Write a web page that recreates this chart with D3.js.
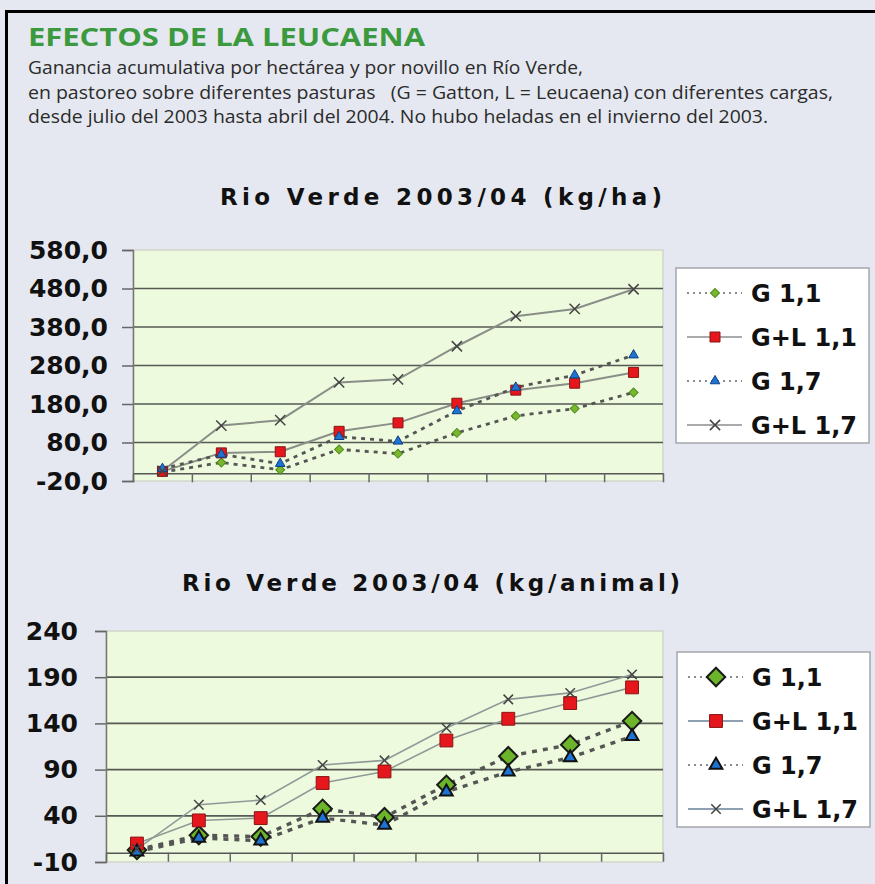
<!DOCTYPE html>
<html>
<head>
<meta charset="utf-8">
<script src="https://cdn.jsdelivr.net/npm/d3@7"></script>
<style>
  html, body { margin: 0; padding: 0; background: #e5e8f0; }
  svg { display: block; }
  text { white-space: pre; }
</style>
</head>
<body>
<script>
"use strict";

// categories (measurement dates, not labelled on the chart)
var categories = ["1", "2", "3", "4", "5", "6", "7", "8", "9"];
var seriesNames = ["G 1,1", "G+L 1,1", "G 1,7", "G+L 1,7"];

// kg/ha
var haG11  = [3, 28, 9, 62, 51, 105, 149, 168, 210];
var haGL11 = [5, 53, 56, 109, 131, 182, 216, 234, 262];
var haG17  = [12, 49, 25, 95, 83, 162, 223, 255, 307];
var haGL17 = [6, 124, 138, 236, 244, 330, 408, 427, 478];
var haTicks = [-20, 80, 180, 280, 380, 480, 580];

// kg/animal
var anG11  = [3, 19, 17.5, 47.5, 38.5, 73.5, 104.5, 117, 142.5];
var anGL11 = [10, 35, 37.5, 75.5, 88, 121.5, 145, 162, 179];
var anG17  = [1, 16, 13, 37.5, 30, 66, 87.5, 103, 126];
var anGL17 = [4, 52, 57, 95, 100, 135, 166, 173, 193];
var anTicks = [-10, 40, 90, 140, 190, 240];

var W = 875, H = 884;
var svg = d3.select("body").append("svg").attr("width", W).attr("height", H);

svg.append("rect").attr("width", W).attr("height", H).attr("fill", "#e5e8f0");

// frame
svg.append("line").attr("x1", 5).attr("x2", W).attr("y1", 11.5).attr("y2", 11.5)
  .attr("stroke", "#000").attr("stroke-width", 3);
svg.append("line").attr("x1", 6.5).attr("x2", 6.5).attr("y1", 10).attr("y2", H)
  .attr("stroke", "#000").attr("stroke-width", 3);

// heading
svg.append("text").attr("x", 28).attr("y", 46)
  .attr("font-family", "Open Sans").attr("font-weight", 700).attr("font-size", 25)
  .attr("fill", "#3c9a3e").attr("textLength", 397).attr("lengthAdjust", "spacingAndGlyphs")
  .text("EFECTOS DE LA LEUCAENA");

var subLines = [
  ["Ganancia acumulativa por hectárea y por novillo en Río Verde,", 555],
  ["en pastoreo sobre diferentes pasturas   (G = Gatton, L = Leucaena) con diferentes cargas,", 805],
  ["desde julio del 2003 hasta abril del 2004. No hubo heladas en el invierno del 2003.", 740]
];
subLines.forEach(function(l, i) {
  svg.append("text").attr("x", 28).attr("y", 74 + i * 24.5)
    .attr("font-family", "Open Sans").attr("font-size", 19).attr("fill", "#2b2b2b")
    .attr("textLength", l[1]).attr("lengthAdjust", "spacingAndGlyphs")
    .text(l[0]);
});

var locale = d3.formatLocale({decimal: ",", thousands: ".", grouping: [3], currency: ["", ""], minus: "-"});
var fmtComma = locale.format(".1f");
var fmtInt = locale.format("d");

var styles = [
  {dash: "4,5", lineColor: "#555", marker: "diamond"},
  {dash: null, lineColor: "#8c918c", marker: "square"},
  {dash: "4,5", lineColor: "#555", marker: "triangle"},
  {dash: null, lineColor: "#8c918c", marker: "x"}
];

function drawMarker(g, type, x, y, big) {
  var sym, size, fill, stroke, sw, rot = 0;
  if (type === "diamond") {
    sym = d3.symbolSquare; rot = 45;
    size = big ? 170 : 40;
    fill = big ? "#6cb42a" : "#79b82c"; stroke = big ? "#1a1a1a" : "#4d8a1c"; sw = big ? 2 : 1;
  } else if (type === "square") {
    sym = d3.symbolSquare; size = big ? 165 : 100;
    fill = "#e5161c"; stroke = "#8a1414"; sw = 1;
  } else if (type === "triangle") {
    sym = d3.symbolTriangle; size = big ? 70 : 40;
    fill = "#1e74d4"; stroke = big ? "#111" : "#0d3f80"; sw = big ? 2 : 1;
  } else {
    sym = d3.symbolTimes || d3.symbolX; size = big ? 60 : 70;
    fill = "none"; stroke = "#444"; sw = 1.5;
  }
  g.append("path")
    .attr("d", d3.symbol().type(sym).size(size)())
    .attr("transform", "translate(" + x + "," + y + ") rotate(" + rot + ")")
    .attr("fill", fill).attr("stroke", stroke).attr("stroke-width", sw);
}

function drawChart(cfg) {
  var g = svg.append("g");
  var x = d3.scaleBand().domain(categories).range([cfg.left, cfg.right]);
  var xb = d3.scaleLinear().domain([0, categories.length]).range([cfg.left, cfg.right]);
  var y = d3.scaleLinear().domain([cfg.ticks[0], cfg.ticks[cfg.ticks.length - 1]]).range([cfg.bottom, cfg.top]);

  // title
  g.append("text").attr("x", cfg.titleX).attr("y", cfg.titleY).attr("text-anchor", "middle")
    .attr("font-family", "DejaVu Sans").attr("font-weight", "bold").attr("font-size", 23)
    .attr("fill", "#111").attr("textLength", cfg.titleW).attr("lengthAdjust", "spacing")
    .text(cfg.title);

  // plot area
  g.append("rect").attr("x", cfg.left).attr("y", cfg.top)
    .attr("width", cfg.right - cfg.left).attr("height", cfg.bottom - cfg.top)
    .attr("fill", "#eefadd").attr("stroke", "#d2d6cc").attr("stroke-width", 1.5);

  // gridlines
  g.selectAll(".grid").data(cfg.ticks.slice(1, -1)).enter().append("line")
    .attr("x1", cfg.left).attr("x2", cfg.right)
    .attr("y1", function(d) { return y(d); }).attr("y2", function(d) { return y(d); })
    .attr("stroke", "#565953").attr("stroke-width", 1.7);

  // y axis
  var yAxis = d3.axisLeft(y).tickValues(cfg.ticks).tickSize(11).tickPadding(cfg.pad)
    .tickFormat(cfg.fmt);
  var ya = g.append("g").attr("transform", "translate(" + cfg.left + ",0)").call(yAxis);
  ya.select(".domain").attr("stroke", "#777").attr("stroke-width", 1.5);
  ya.selectAll(".tick line").attr("stroke", "#666").attr("stroke-width", 1.5);
  ya.selectAll(".tick text").attr("font-family", "DejaVu Sans").attr("font-weight", "bold")
    .attr("font-size", 25).attr("fill", "#111");

  // x axis at zero
  var xAxis = d3.axisBottom(xb).tickValues(d3.range(0, categories.length + 1))
    .tickSize(9).tickSizeOuter(0).tickFormat("");
  var xa = g.append("g").attr("transform", "translate(0," + y(0) + ")").call(xAxis);
  xa.select(".domain").attr("stroke", "#555").attr("stroke-width", 1.6);
  xa.selectAll(".tick line").attr("stroke", "#666").attr("stroke-width", 1.5);

  var cx = function(i) { return x(categories[i]) + x.bandwidth() / 2; };
  var line = d3.line().x(function(d, i) { return cx(i); }).y(function(d) { return y(d); });

  cfg.series.forEach(function(vals, s) {
    var st = styles[s];
    g.append("path").datum(vals).attr("d", line).attr("fill", "none")
      .attr("stroke", st.dash ? "#555" : cfg.solidColor)
      .attr("stroke-width", st.dash ? cfg.dotW : cfg.solidW)
      .attr("stroke-dasharray", st.dash ? cfg.dash : null);
  });
  cfg.series.forEach(function(vals, s) {
    vals.forEach(function(v, i) { drawMarker(g, styles[s].marker, cx(i), y(v), cfg.big); });
  });

  // legend
  var lg = g.append("g");
  lg.append("rect").attr("x", cfg.legX).attr("y", cfg.legY).attr("width", 193).attr("height", 175)
    .attr("fill", "#fff").attr("stroke", "#a4a7ad").attr("stroke-width", 1.5);
  seriesNames.forEach(function(name, s) {
    var st = styles[s];
    var ly = cfg.legY + 25 + s * 44;
    lg.append("line").attr("x1", cfg.legX + 11).attr("x2", cfg.legX + 66)
      .attr("y1", ly).attr("y2", ly)
      .attr("stroke", st.dash ? "#666" : cfg.legSolid)
      .attr("stroke-width", st.dash ? 1.5 : 2)
      .attr("stroke-dasharray", st.dash ? "2,4" : null);
    drawMarker(lg, st.marker, cfg.legX + 39, ly, cfg.big);
    lg.append("text").attr("x", cfg.legX + 75).attr("y", ly + 9)
      .attr("font-family", "DejaVu Sans").attr("font-weight", "bold").attr("font-size", 24)
      .attr("fill", "#111").text(name);
  });
}

drawChart({
  title: "Rio Verde 2003/04 (kg/ha)", titleX: 441, titleY: 205, titleW: 442,
  left: 133, right: 663, top: 250, bottom: 481, ticks: haTicks, pad: 14,
  fmt: fmtComma,
  series: [haG11, haGL11, haG17, haGL17], big: false,
  dash: "4,5", dotW: 2.8, solidColor: "#8a8e88", solidW: 2,
  legX: 676, legY: 268, legSolid: "#a9abab"
});

drawChart({
  title: "Rio Verde 2003/04 (kg/animal)", titleX: 431, titleY: 591, titleW: 498,
  left: 106, right: 663, top: 631, bottom: 862, ticks: anTicks, pad: 17,
  fmt: fmtInt,
  series: [anG11, anGL11, anG17, anGL17], big: true,
  dash: "5,6", dotW: 3.4, solidColor: "#8f9a98", solidW: 1.6,
  legX: 677, legY: 652, legSolid: "#8ea0b2"
});
</script>
</body>
</html>
